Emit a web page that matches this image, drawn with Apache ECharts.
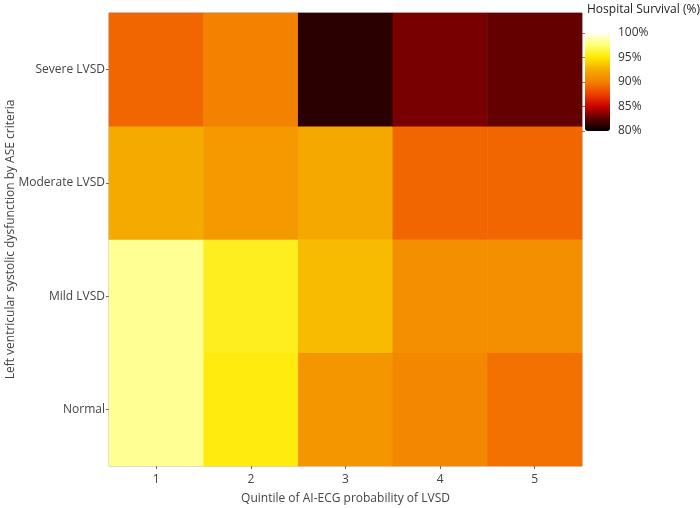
<!DOCTYPE html>
<html>
<head>
<meta charset="utf-8">
<script src="https://cdn.jsdelivr.net/npm/echarts@6/dist/echarts.min.js"></script>
<style>
    html, body { margin: 0; padding: 0; background: #fff; }
    #chart { width: 700px; height: 508px; }
</style>
</head>
<body>
<div id="chart"></div>
<script>
const quintiles = ['1', '2', '3', '4', '5'];
const lvsdGrades = ['Normal', 'Mild LVSD', 'Moderate LVSD', 'Severe LVSD'];

// hospital survival (%) per quintile, one array per LVSD grade
const normal = [98.2, 95.3, 91.3, 90.5, 89.4];
const mild = [98.2, 95.7, 93.2, 90.9, 90.9];
const moderate = [92.5, 91.5, 92.4, 89.0, 89.0];
const severe = [89.0, 90.1, 81.2, 83.2, 82.7];

const legendTicks = [80, 85, 90, 95, 100];

const rows = [normal, mild, moderate, severe];
const cells = [];
rows.forEach(function (row, y) {
    row.forEach(function (v, x) { cells.push([x, y, v]) })
});

const font = "'Open Sans', 'Noto Sans', sans-serif";

const chart = echarts.init(document.getElementById('chart'));

chart.setOption({
    animation: false,
    textStyle: { fontFamily: font },
    title: {
        text: 'Hospital Survival (%)',
        left: 582,
        top: -1,
        textStyle: { fontSize: 12, fontWeight: 'normal', color: '#222', fontFamily: font }
    },
    grid: [
        {
            left: 109,
            right: 118,
            top: 13,
            bottom: 42,
            containLabel: false,
            outerBoundsMode: 'none',
            show: true,
            borderColor: '#aaa',
            borderWidth: 1,
            backgroundColor: 'transparent'
        },
        {
            // colour bar scale
            left: 585,
            top: 33,
            width: 25,
            height: 98,
            containLabel: false,
            outerBoundsMode: 'none',
            show: false
        }
    ],
    xAxis: [
        {
            type: 'category',
            data: quintiles,
            gridIndex: 0,
            axisLine: { show: false },
            axisTick: { show: true, length: 3, lineStyle: { color: '#666' }, alignWithLabel: true },
            axisLabel: { color: '#444', fontSize: 12, margin: 8 },
            name: 'Quintile of AI-ECG probability of LVSD',
            nameLocation: 'middle',
            nameGap: 27,
            nameMoveOverlap: false,
            nameTextStyle: { color: '#444', fontSize: 12 },
            splitLine: { show: false }
        },
        {
            type: 'value',
            gridIndex: 1,
            show: false
        }
    ],
    yAxis: [
        {
            type: 'category',
            data: lvsdGrades,
            gridIndex: 0,
            axisLine: { show: false },
            axisTick: { show: true, length: 3, lineStyle: { color: '#666' }, alignWithLabel: true },
            axisLabel: { color: '#444', fontSize: 12, margin: 4 },
            name: 'Left ventricular systolic dysfunction by ASE criteria',
            nameLocation: 'middle',
            nameGap: 92,
            nameMoveOverlap: false,
            nameTextStyle: { color: '#444', fontSize: 12 },
            splitLine: { show: false }
        },
        {
            type: 'value',
            gridIndex: 1,
            min: legendTicks[0],
            max: legendTicks[legendTicks.length - 1],
            interval: 5,
            position: 'right',
            axisLine: { show: false },
            axisTick: { show: true, inside: true, length: 4, lineStyle: { color: 'rgba(160,40,0,0.7)' } },
            axisLabel: { color: '#333', fontSize: 12, margin: 8, formatter: '{value}%' },
            splitLine: { show: false }
        }
    ],
    visualMap: {
        type: 'continuous',
        seriesIndex: 0,
        dimension: 2,
        min: 80,
        max: 100,
        calculable: false,
        left: 585,
        top: 33,
        padding: 0,
        itemWidth: 25,
        itemHeight: 98,
        text: null,
        showLabel: false,
        inRange: {
            color: ['#000000', '#5a0000', '#c80000', '#f04000', '#f28000', '#f5aa00', '#ffe800', '#ffff70', '#fffff2']
        }
    },
    series: [
        {
            type: 'heatmap',
            xAxisIndex: 0,
            yAxisIndex: 0,
            data: cells,
            emphasis: { disabled: true },
            itemStyle: { borderWidth: 0 }
        }
    ]
})
</script>
</body>
</html>
